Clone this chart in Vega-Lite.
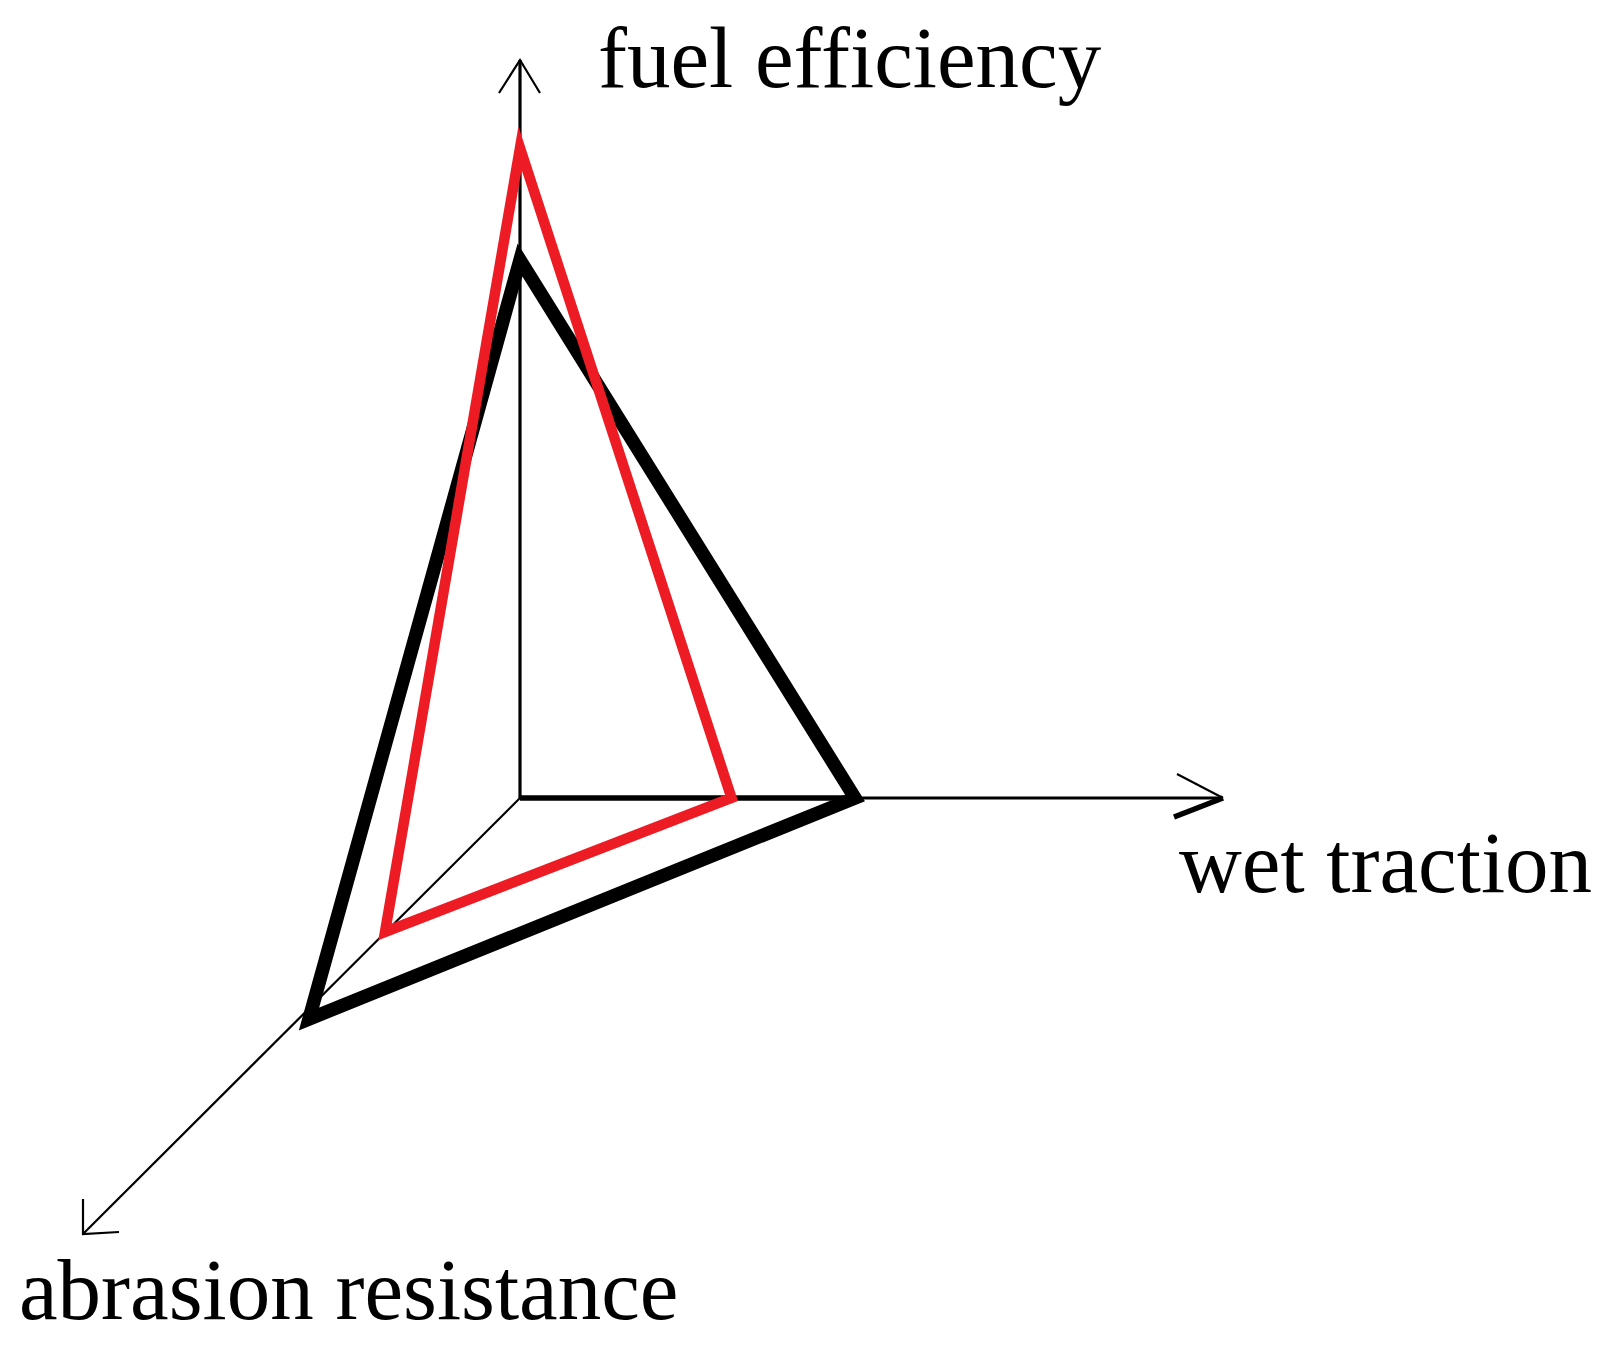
{
  "$schema": "https://vega.github.io/schema/vega-lite/v6.json",
  "autosize": {"type": "fit", "contains": "padding"},
  "width": 1622,
  "height": 1348,
  "padding": 0,
  "background": "white",
  "config": {"view": {"stroke": null}},
  "datasets": {
    "lines": [
      {"path": "fe_axis", "order": 1, "x": 0, "y": 0},
      {"path": "fe_axis", "order": 2, "x": 0, "y": 738},
      {"path": "wt_axis", "order": 1, "x": 0, "y": 0},
      {"path": "wt_axis", "order": 2, "x": 703, "y": 0},
      {"path": "fe_head", "order": 1, "x": -21, "y": 705},
      {"path": "fe_head", "order": 2, "x": 0, "y": 738},
      {"path": "fe_head", "order": 3, "x": 20, "y": 705},
      {"path": "wt_head_upper", "order": 1, "x": 657, "y": 24},
      {"path": "wt_head_upper", "order": 2, "x": 703, "y": 0},
      {"path": "ar_axis", "order": 1, "x": 0, "y": 0},
      {"path": "ar_axis", "order": 2, "x": -437, "y": -436},
      {"path": "ar_head", "order": 1, "x": -437, "y": -401},
      {"path": "ar_head", "order": 2, "x": -437, "y": -436},
      {"path": "ar_head", "order": 3, "x": -401, "y": -434},
      {"path": "wt_inner", "order": 1, "x": 0, "y": 0},
      {"path": "wt_inner", "order": 2, "x": 335, "y": 0},
      {"path": "wt_head_lower", "order": 1, "x": 654, "y": -19},
      {"path": "wt_head_lower", "order": 2, "x": 703, "y": 0},
      {"path": "black", "order": 1, "x": 0, "y": 538},
      {"path": "black", "order": 2, "x": 335, "y": 0},
      {"path": "black", "order": 3, "x": -211, "y": -221},
      {"path": "black", "order": 4, "x": 0, "y": 538},
      {"path": "black", "order": 5, "x": 335, "y": 0},
      {"path": "red", "order": 1, "x": 0, "y": 650},
      {"path": "red", "order": 2, "x": 211.5, "y": 0},
      {"path": "red", "order": 3, "x": -135, "y": -134},
      {"path": "red", "order": 4, "x": 0, "y": 650},
      {"path": "red", "order": 5, "x": 211.5, "y": 0}
    ],
    "labels": [
      {"label": "fuel efficiency", "x": 78, "y": 711},
      {"label": "wet traction", "x": 659, "y": -94},
      {"label": "abrasion resistance", "x": -501, "y": -521}
    ]
  },
  "encoding": {
    "x": {"field": "x", "type": "quantitative", "scale": {"domain": [-520, 1102], "nice": false, "zero": false}, "axis": null},
    "y": {"field": "y", "type": "quantitative", "scale": {"domain": [-550, 798], "nice": false, "zero": false}, "axis": null}
  },
  "layer": [
    {
      "data": {"name": "lines"},
      "transform": [{"filter": "datum.path === 'fe_axis' || datum.path === 'wt_axis'"}],
      "mark": {"type": "line", "color": "black", "strokeWidth": 3.2},
      "encoding": {"detail": {"field": "path"}, "order": {"field": "order", "type": "quantitative"}}
    },
    {
      "data": {"name": "lines"},
      "transform": [{"filter": "indexof(['fe_head','wt_head_upper','ar_axis','ar_head'], datum.path) >= 0"}],
      "mark": {"type": "line", "color": "black", "strokeWidth": 2.2, "strokeJoin": "miter"},
      "encoding": {"detail": {"field": "path"}, "order": {"field": "order", "type": "quantitative"}}
    },
    {
      "data": {"name": "lines"},
      "transform": [{"filter": "datum.path === 'wt_inner' || datum.path === 'wt_head_lower'"}],
      "mark": {"type": "line", "color": "black", "strokeWidth": 5.5},
      "encoding": {"detail": {"field": "path"}, "order": {"field": "order", "type": "quantitative"}}
    },
    {
      "data": {"name": "lines"},
      "transform": [{"filter": "datum.path === 'black'"}],
      "mark": {"type": "line", "color": "black", "strokeWidth": 13.5, "strokeJoin": "miter", "strokeMiterLimit": 10},
      "encoding": {"detail": {"field": "path"}, "order": {"field": "order", "type": "quantitative"}}
    },
    {
      "data": {"name": "lines"},
      "transform": [{"filter": "datum.path === 'red'"}],
      "mark": {"type": "line", "color": "#ED1C24", "strokeWidth": 10.5, "strokeJoin": "miter", "strokeMiterLimit": 10},
      "encoding": {"detail": {"field": "path"}, "order": {"field": "order", "type": "quantitative"}}
    },
    {
      "data": {"name": "labels"},
      "mark": {"type": "text", "font": "Liberation Serif", "fontSize": 87, "align": "left", "baseline": "alphabetic", "color": "black"},
      "encoding": {"text": {"field": "label"}}
    }
  ]
}
